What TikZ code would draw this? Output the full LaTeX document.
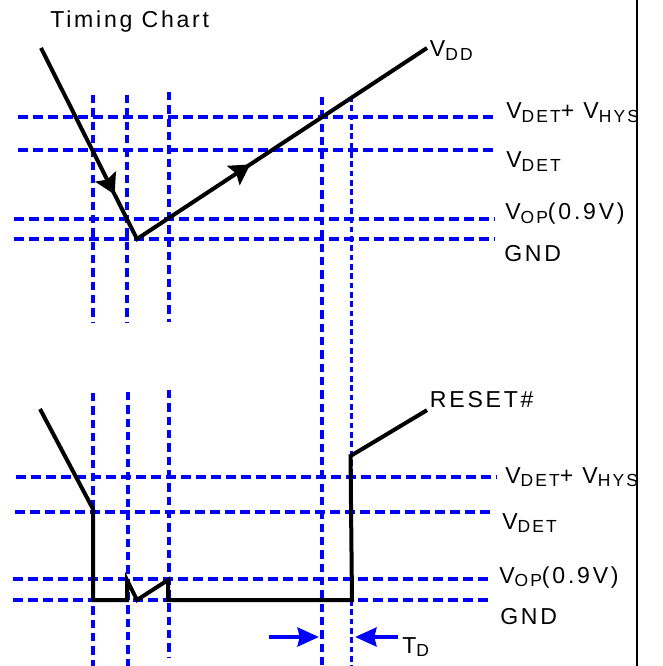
\documentclass[tikz,border=0pt]{standalone}
\usepackage{fontspec}
\setmainfont{Liberation Sans}[LetterSpace=12]
\usetikzlibrary{arrows.meta,decorations.markings}
\newcommand{\lowtxt}[1]{\raisebox{-2.4pt}{\fontsize{13.1}{14}\selectfont #1}}
\tikzset{
  hgrid/.style={blue,line width=2.4pt,dash pattern=on 7.5pt off 3.75pt},
  vgrid/.style={blue,line width=2.4pt,dash pattern=on 6.25pt off 3.75pt},
  vfine/.style={blue,line width=2pt,dash pattern=on 4.2pt off 2.8pt},
  wave/.style={black,line width=3pt},
  lbl/.style={anchor=base west,inner sep=0pt},
  tdarrow/.style={blue,line width=3.2pt,-{Stealth[length=16pt,width=14pt,inset=1.5pt]}},
  dirtip/.style={postaction={decorate,decoration={markings,
    mark=at position #1 with {\arrow{Stealth[length=15pt,width=17pt,inset=2.5pt]}}}}},
}

\begin{document}
\begin{tikzpicture}[x=0.75pt,y=-0.75pt,font=\fontsize{17.3}{20}\selectfont]
\useasboundingbox (0,0) rectangle (662,666);
% frame edge on the right
\draw[line width=2pt] (637,0) -- (637,666);
% levels, upper chart and lower chart
\foreach \xa/\xb/\y in {18/498/117,18/498/150,14/495/219,14/495/239,16/497/477,15/495/512,13/493/579,13/493/600}
  {\draw[hgrid] (\xa,\y) -- (\xb,\y);}
% time marks
\foreach \x/\ya/\yb in {93/95/323,127/95/323,169/92/322,93/393/666,128/392/666,169/390/657}
  {\draw[vgrid] (\x,\ya) -- (\x,\yb);}
\draw[vgrid] (322,97) -- (322,666);
\draw[vfine] (351.5,96) -- (351.5,666);
% labels
\node[lbl] (lblTitle) at (50,28) {Timing Chart};
\node[lbl,inner sep=2pt] (lblVdd) at (427,57) {V\lowtxt{DD}};
\node[lbl] (lblHysTop) at (506,119) {V\lowtxt{DET}+ V\lowtxt{HYS}};
\node[lbl] (lblDetTop) at (506,168) {V\lowtxt{DET}};
\node[lbl] (lblOpTop) at (505,220) {V\lowtxt{OP}(0.9V)};
\node[lbl] (lblGndTop) at (504,262) {GND};
\node[lbl,inner sep=2pt] (lblReset) at (427,407) {RESET\#};
\node[lbl] (lblHysBot) at (505,483) {V\lowtxt{DET}+ V\lowtxt{HYS}};
\node[lbl] (lblDetBot) at (502,529) {V\lowtxt{DET}};
\node[lbl] (lblOpBot) at (499,583) {V\lowtxt{OP}(0.9V)};
\node[lbl] (lblGndBot) at (500,624) {GND};
\node[lbl] (lblTd) at (402,653) {T\lowtxt{D}};
% supply: falls, then rises again
\draw[wave,dirtip=123pt,dirtip=262pt] (41,48) -- (137,239) -- ([yshift=2pt]lblVdd.west);
% reset output
\draw[wave] (40,409) -- (93,509) -- (93,600) -- (127,600) -- (127,580) -- (137,600)
  -- (168,580) -- (168,600) -- (352,600) -- (350.5,456) -- (lblReset.south west);
% delay time
\coordinate (tdFrom) at (269,637);
\coordinate (tdTo) at (319,637);
\coordinate (tdBack) at (398,637);
\coordinate (tdEnd) at (355,637);
\draw[tdarrow] (tdFrom) -- (tdTo);
\draw[tdarrow] (tdBack) -- (tdEnd);
\end{tikzpicture}
\end{document}
